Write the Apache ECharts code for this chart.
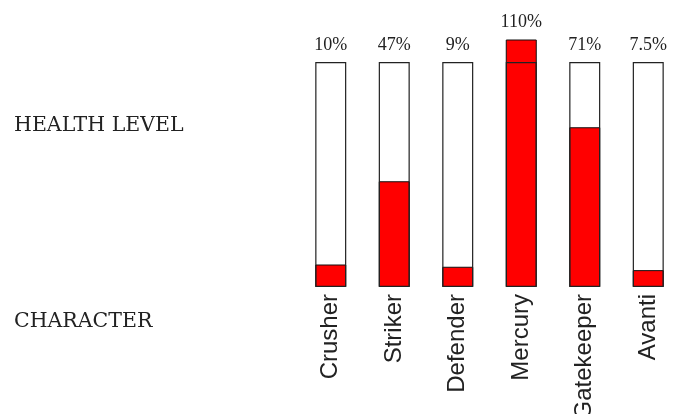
<!DOCTYPE html>
<html>
<head>
<meta charset="utf-8">
<script src="https://cdn.jsdelivr.net/npm/echarts@6/dist/echarts.min.js"></script>
<style>
html,body{margin:0;padding:0;background:#fff;}
#chart{width:677px;height:414px;}
</style>
</head>
<body>
<div id="chart"></div>
<script>
var categories = ['Crusher', 'Striker', 'Defender', 'Mercury', 'Gatekeeper', 'Avanti'];
var healthValues = [10, 47, 9, 110, 71, 7.5];
var fullLevel = [100, 100, 100, 100, 100, 100];
var healthLabels = ['10%', '47%', '9%', '110%', '71%', '7.5%'];

var chart = echarts.init(document.getElementById('chart'), null, {renderer: 'canvas'});
var labelTops = healthValues.map(function (v, i) { return Math.max(v, fullLevel[i]); });

chart.setOption({
  backgroundColor: '#ffffff',
  animation: false,
  grid: {left: 299, top: 17, width: 381, height: 270, containLabel: false, outerBoundsMode: 'none'},
  xAxis: {
    type: 'category',
    data: categories,
    axisLine: {show: false},
    axisTick: {show: false},
    axisLabel: {
      rotate: 90,
      margin: 7,
      fontFamily: 'Liberation Sans',
      fontSize: 24,
      color: '#222'
    }
  },
  yAxis: {type: 'value', min: 0, max: 120, show: false, splitLine: {show: false}},
  series: [
    {
      type: 'bar',
      data: healthValues,
      barWidth: 31,
      itemStyle: {color: '#ff0000', borderColor: '#111', borderWidth: 1}
    },
    {
      type: 'bar',
      data: fullLevel,
      barWidth: 31,
      barGap: '-100%',
      itemStyle: {color: 'rgba(0,0,0,0)', borderColor: '#222', borderWidth: 1.2}
    },
    {
      type: 'bar',
      data: labelTops,
      barWidth: 31,
      barGap: '-100%',
      silent: true,
      itemStyle: {color: 'rgba(0,0,0,0)'},
      label: {
        show: true,
        position: 'top',
        distance: 8,
        fontFamily: 'Liberation Serif',
        fontSize: 18,
        color: '#222',
        formatter: function (p) { return healthLabels[p.dataIndex]; }
      }
    }
  ],
  graphic: [
    {type: 'text', left: 14, top: 115, style: {text: 'HEALTH LEVEL', fontFamily: 'DejaVu Serif', fontSize: 20.5, fill: '#222'}},
    {type: 'text', left: 14, top: 311, style: {text: 'CHARACTER', fontFamily: 'DejaVu Serif', fontSize: 20.5, fill: '#222'}}
  ]
});
</script>
</body>
</html>
